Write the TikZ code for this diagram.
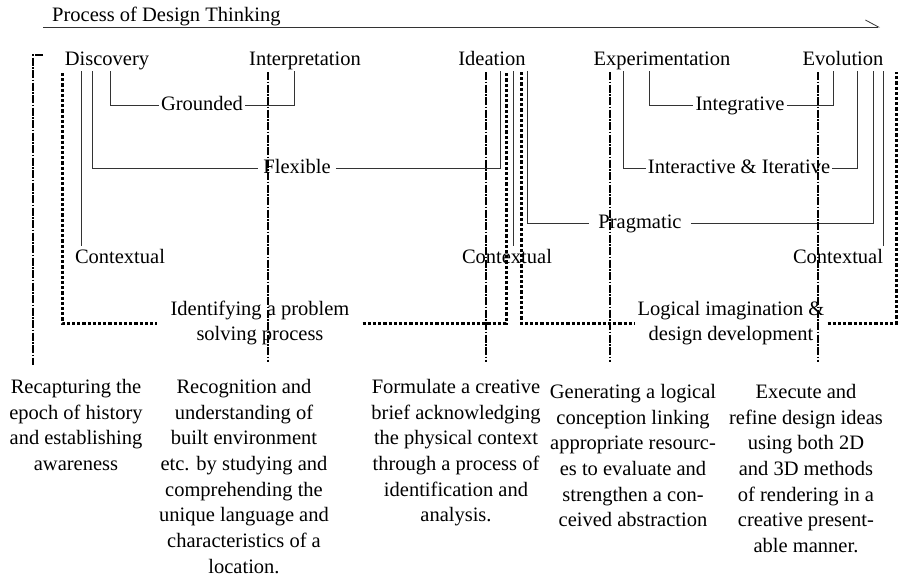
\documentclass[tikz,border=0pt]{standalone}
\usepackage{fontspec}
\setmainfont{Liberation Serif}
\usetikzlibrary{arrows.meta}

\tikzset{
  stage/.style={anchor=base,inner sep=2pt,text depth=4pt},
  quality/.style={anchor=base,inner ysep=3pt,inner xsep=2pt,text height=13pt,text depth=4pt},
  gaplabel/.style={align=center,inner ysep=0pt},
  desc/.style={anchor=north,align=center,inner sep=0pt},
  link/.style={draw=black!80,line width=0.8pt},
  bound/.style={line width=3pt,dash pattern=on 3.2pt off 2pt},
  guide/.style={line width=1.6pt,dash pattern=on 8pt off 1.5pt on 1.5pt off 1.5pt}
}

\begin{document}
\begin{tikzpicture}[x=1pt,y=-1pt,font=\fontsize{20.5}{25.7}\selectfont]
    \useasboundingbox (0,0) rectangle (898,576);
    %% Draw the title arrow
    \node[anchor=base west,inner sep=0pt] (title) at (52,21) {Process of Design Thinking};
    \coordinate (ts) at (43,27);
    \coordinate (te) at (880,27);
    \draw[link,-{Straight Barb[left,length=13pt,width=14pt]}] (ts) -- (te);
    %% Draw the stages
    \node[stage] (disc) at (107,65) {Discovery};
    \node[stage] (interp) at (305,65) {Interpretation};
    \node[stage] (idea) at (492,65) {Ideation};
    \node[stage] (exper) at (662,65) {Experimentation};
    \node[stage] (evol) at (843,65) {Evolution};
    %% Draw the qualities
    \node[quality] (grnd) at (202,110) {Grounded};
    \node[quality,inner xsep=5pt] (flex) at (297,173) {Flexible};
    \node[quality,inner xsep=9pt] (prag) at (640,228) {Pragmatic};
    \node[quality] (integ) at (740,110) {Integrative};
    \node[quality] (inter) at (739,173) {Interactive \& Iterative};
    \node[stage,inner sep=3pt] (ctxa) at (120,263) {Contextual};
    \node[stage,inner sep=3pt] (ctxb) at (507,263) {Contextual};
    \node[stage,inner sep=3pt] (ctxc) at (838,263) {Contextual};
    %% Draw the connectors
    \begin{scope}[every path/.style={link}]
      \draw ([xshift=-26pt]disc.south) -- ([xshift=-26pt]disc.south |- ctxa.north);
      \draw ([xshift=-15pt]disc.south) |- (flex.west);
      \draw (flex.east) -| ([xshift=8pt]idea.south);
      \draw ([xshift=3pt]disc.south) |- (grnd.west);
      \draw (grnd.east) -| ([xshift=-11pt]interp.south);
      \draw ([xshift=21pt]idea.south) -- ([xshift=21pt]idea.south |- ctxb.north);
      \draw ([xshift=35pt]idea.south) |- (prag.west);
      \draw (prag.east) -| ([xshift=30pt]evol.south);
      \draw ([xshift=-39pt]exper.south) |- (inter.west);
      \draw (inter.east) -| ([xshift=14pt]evol.south);
      \draw ([xshift=-13pt]exper.south) |- (integ.west);
      \draw (integ.east) -| ([xshift=-10pt]evol.south);
      \draw ([xshift=40pt]evol.south) -- ([xshift=40pt]evol.south |- ctxc.north);
    \end{scope}
    %% Draw the dotted frames
    \node[gaplabel,inner xsep=13pt] (probl) at (260,323) {Identifying a problem\\solving process};
    \node[gaplabel,inner xsep=3pt] (logic) at (731,323) {Logical imagination \&\\design development};
    \coordinate (fa) at (62,73);
    \coordinate (fb) at (506,72);
    \coordinate (fc) at (521,72);
    \coordinate (fd) at (896,72);
    \draw[bound] (fa) |- (probl.west);
    \draw[bound] (probl.east) -| (fb);
    \draw[bound] (fc) |- (logic.west);
    \draw[bound] (logic.east) -| (fd);
    %% Draw the guide lines
    \draw[guide] (43,55) -- (33,55) -- (33,365);
    \foreach \x in {268,486,610,818}
      \draw[guide] (\x,72) -- (\x,362);
    %% Draw the descriptions
    \node[desc] (da) at (76,379) {Recapturing the\\epoch of history\\and establishing\\awareness};
    \node[desc] (db) at (244,379) {Recognition and\\understanding of\\built environment\\etc. by studying and\\comprehending the\\unique language and\\characteristics of a\\location.};
    \node[desc] (dc) at (456,379) {Formulate a creative\\brief acknowledging\\the physical context\\through a process of\\identification and\\analysis.};
    \node[desc] (dd) at (633,384) {Generating a logical\\conception linking\\appropriate resourc-\\es to evaluate and\\strengthen a con-\\ceived abstraction};
    \node[desc] (de) at (806,384) {Execute and\\refine design ideas\\using both 2D\\and 3D methods\\of rendering in a\\creative present-\\able manner.};
  \end{tikzpicture}
\end{document}
